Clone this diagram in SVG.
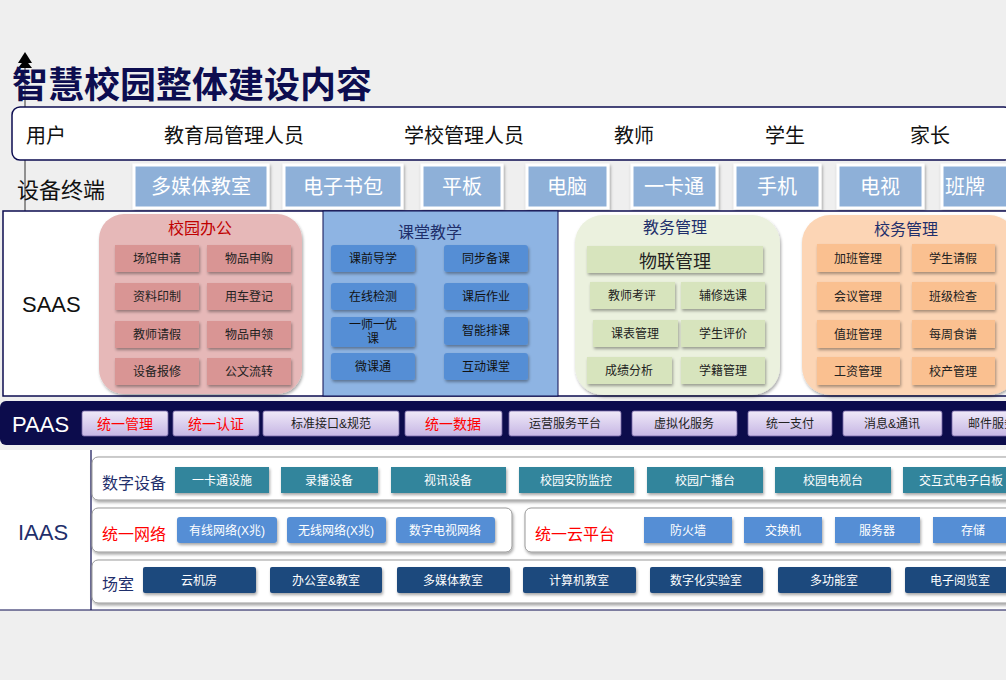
<svg xmlns="http://www.w3.org/2000/svg" width="1006" height="680" viewBox="0 0 1006 680">
<defs>
<linearGradient id="lav" x1="0" y1="0" x2="0" y2="1"><stop offset="0" stop-color="#efe9f8"/><stop offset="1" stop-color="#c6b6e4"/></linearGradient>
<filter id="sh" x="-10%" y="-10%" width="130%" height="140%"><feDropShadow dx="1" dy="2" stdDeviation="1.5" flood-color="#000" flood-opacity="0.35"/></filter>
</defs>
<style>
text{font-family:"Liberation Sans","Noto Sans CJK SC",sans-serif;}
.c{text-anchor:middle}
.s12{font-size:12px}
.w{fill:#fff}
.nv{fill:#1f2f6b}
.rd{fill:#ff0000}
.bx{filter:url(#sh)}
</style>
<rect width="1006" height="680" fill="#efefef"/>
<g id="title">
<line x1="25" y1="55" x2="25" y2="215" stroke="#333" stroke-width="1"/>
<polygon points="18,63 25,52 32,63" fill="#000"/>
<polygon points="18,68 25,59 32,68" fill="#000"/>
<text x="12" y="98" font-size="36" font-weight="bold" fill="#0d0d50">智慧校园整体建设内容</text>
</g>
<g id="users">
<rect x="12" y="107" width="1000" height="53" rx="8" fill="#fff" stroke="#0d0d50" stroke-width="1.5"/>
<g font-size="20" fill="#111">
<text x="26" y="143">用户</text><text x="164" y="143">教育局管理人员</text><text x="404" y="143">学校管理人员</text>
<text x="614" y="143">教师</text><text x="765" y="143">学生</text><text x="910" y="143">家长</text>
</g>
</g>
<g id="devices">
<text x="17" y="198" font-size="22" fill="#111">设备终端</text>
<g fill="#8eb0d8" stroke="#fff" stroke-width="3" class="bx">
<rect x="134" y="165" width="134" height="43"/><rect x="284" y="165" width="118" height="43"/><rect x="422" y="165" width="80" height="43"/>
<rect x="527" y="165" width="81" height="43"/><rect x="632" y="165" width="85" height="43"/><rect x="735" y="165" width="85" height="43"/>
<rect x="838" y="165" width="85" height="43"/><rect x="942" y="165" width="70" height="43"/>
</g>
<g font-size="20" class="c w">
<text x="201" y="194">多媒体教室</text><text x="343" y="194">电子书包</text><text x="462" y="194">平板</text><text x="567" y="194">电脑</text>
<text x="674" y="194">一卡通</text><text x="777" y="194">手机</text><text x="880" y="194">电视</text><text x="965" y="194">班牌</text>
</g>
</g>
<g id="saas">
<rect x="3" y="211" width="1005" height="185" fill="#fff" stroke="#0d0d50" stroke-width="1.5"/>
<text x="22" y="312" font-size="22" fill="#111">SAAS</text>
<g id="office">
<rect x="99" y="214" width="203" height="180" rx="25" fill="#e6b8b8" class="bx"/>
<text x="200" y="234" font-size="16" class="c" fill="#c00000">校园办公</text>
<g fill="#d99594" class="bx">
<rect x="115" y="245" width="84" height="27"/><rect x="207" y="245" width="84" height="27"/>
<rect x="115" y="283" width="84" height="27"/><rect x="207" y="283" width="84" height="27"/>
<rect x="115" y="321" width="84" height="27"/><rect x="207" y="321" width="84" height="27"/>
<rect x="115" y="358" width="84" height="27"/><rect x="207" y="358" width="84" height="27"/>
</g>
<g class="c s12" fill="#222">
<text x="157" y="263">场馆申请</text><text x="249" y="263">物品申购</text>
<text x="157" y="301">资料印制</text><text x="249" y="301">用车登记</text>
<text x="157" y="339">教师请假</text><text x="249" y="339">物品申领</text>
<text x="157" y="376">设备报修</text><text x="249" y="376">公文流转</text>
</g>
</g>
<g id="teaching">
<rect x="323" y="211" width="235" height="185" fill="#8eb4e3" stroke="#0d0d50" stroke-width="1"/>
<text x="430" y="238" font-size="16" class="c nv">课堂教学</text>
<g fill="#558ed5" class="bx">
<rect x="331" y="245" width="84" height="27" rx="3"/><rect x="444" y="245" width="84" height="27" rx="3"/>
<rect x="331" y="283" width="84" height="27" rx="3"/><rect x="444" y="283" width="84" height="27" rx="3"/>
<rect x="331" y="317" width="84" height="30" rx="3"/><rect x="444" y="317" width="84" height="28" rx="3"/>
<rect x="331" y="353" width="84" height="27" rx="3"/><rect x="444" y="353" width="84" height="27" rx="3"/>
</g>
<g class="c s12" fill="#111">
<text x="373" y="263">课前导学</text><text x="486" y="263">同步备课</text>
<text x="373" y="301">在线检测</text><text x="486" y="301">课后作业</text>
<text x="373" y="329">一师一优</text><text x="373" y="343">课</text><text x="486" y="335">智能排课</text>
<text x="373" y="371">微课通</text><text x="486" y="371">互动课堂</text>
</g>
</g>
<g id="academic">
<rect x="575" y="215" width="205" height="180" rx="28" fill="#ebf1de" class="bx"/>
<text x="675" y="233" font-size="16" class="c nv">教务管理</text>
<g fill="#d7e4bd" class="bx">
<rect x="587" y="246" width="176" height="27"/>
<rect x="590" y="282" width="85" height="27"/><rect x="681" y="282" width="84" height="27"/>
<rect x="593" y="320" width="85" height="27"/><rect x="681" y="320" width="84" height="27"/>
<rect x="587" y="357" width="85" height="27"/><rect x="681" y="357" width="84" height="27"/>
</g>
<text x="675" y="268" font-size="18" class="c" fill="#222">物联管理</text>
<g class="c s12" fill="#222">
<text x="632" y="300">教师考评</text><text x="723" y="300">辅修选课</text>
<text x="635" y="338">课表管理</text><text x="723" y="338">学生评价</text>
<text x="629" y="375">成绩分析</text><text x="723" y="375">学籍管理</text>
</g>
</g>
<g id="admin">
<rect x="802" y="215" width="215" height="180" rx="28" fill="#fcd5b5" class="bx"/>
<text x="906" y="235" font-size="16" class="c nv">校务管理</text>
<g fill="#fac090" class="bx">
<rect x="817" y="244" width="83" height="28"/><rect x="912" y="244" width="83" height="28"/>
<rect x="817" y="282" width="83" height="28"/><rect x="912" y="282" width="83" height="28"/>
<rect x="817" y="320" width="83" height="28"/><rect x="912" y="320" width="83" height="28"/>
<rect x="817" y="357" width="83" height="28"/><rect x="912" y="357" width="83" height="28"/>
</g>
<g class="c s12" fill="#222">
<text x="858" y="263">加班管理</text><text x="953" y="263">学生请假</text>
<text x="858" y="301">会议管理</text><text x="953" y="301">班级检查</text>
<text x="858" y="339">值班管理</text><text x="953" y="339">每周食谱</text>
<text x="858" y="376">工资管理</text><text x="953" y="376">校产管理</text>
</g>
</g>
</g>
<g id="paas">
<rect x="0" y="401" width="1012" height="44" rx="6" fill="#0c0c4c"/>
<text x="12" y="432" font-size="22" fill="#fff">PAAS</text>
<g fill="url(#lav)" stroke="#7a6aa8" stroke-width="0.8">
<rect x="82" y="411" width="86" height="25" rx="2"/><rect x="173" y="411" width="86" height="25" rx="2"/>
<rect x="263" y="411" width="136" height="25" rx="2"/><rect x="405" y="411" width="97" height="25" rx="2"/>
<rect x="509" y="411" width="112" height="25" rx="2"/><rect x="632" y="411" width="105" height="25" rx="2"/>
<rect x="748" y="411" width="84" height="25" rx="2"/><rect x="843" y="411" width="99" height="25" rx="2"/>
<rect x="952" y="411" width="70" height="25" rx="2"/>
</g>
<g class="c" font-size="14" fill="#ff0000">
<text x="125" y="429">统一管理</text><text x="216" y="429">统一认证</text><text x="453" y="429">统一数据</text>
</g>
<g class="c s12" fill="#222">
<text x="331" y="428">标准接口&amp;规范</text><text x="565" y="428">运营服务平台</text><text x="684" y="428">虚拟化服务</text>
<text x="790" y="428">统一支付</text><text x="892" y="428">消息&amp;通讯</text><text x="992" y="428">邮件服务</text>
</g>
</g>
<g id="iaas">
<rect x="0" y="450" width="1006" height="160" fill="#fff"/>
<line x1="0" y1="610" x2="1006" y2="610" stroke="#0d0d50" stroke-width="1.2"/>
<line x1="91" y1="450" x2="91" y2="610" stroke="#0d0d50" stroke-width="1.2"/>
<text x="18" y="540" font-size="22" fill="#1f2f6b">IAAS</text>
<g fill="#fff" stroke="#999" stroke-width="1" class="bx">
<rect x="92" y="457" width="920" height="43" rx="6"/>
<rect x="92" y="508" width="420" height="44" rx="6"/>
<rect x="525" y="508" width="487" height="44" rx="6"/>
<rect x="92" y="560" width="920" height="43" rx="6"/>
</g>
<g font-size="16">
<text x="102" y="489" class="nv">数字设备</text><text x="102" y="540" class="rd">统一网络</text>
<text x="535" y="540" class="rd">统一云平台</text><text x="102" y="590" class="nv">场室</text>
</g>
<g fill="#31859c" class="bx">
<rect x="175" y="467" width="94" height="26"/><rect x="281" y="467" width="97" height="26"/><rect x="391" y="467" width="115" height="26"/>
<rect x="519" y="467" width="115" height="26"/><rect x="647" y="467" width="116" height="26"/><rect x="775" y="467" width="116" height="26"/>
<rect x="903" y="467" width="110" height="26"/>
</g>
<g fill="#558ed5" class="bx">
<rect x="177" y="517" width="100" height="26" rx="3"/><rect x="287" y="517" width="99" height="26" rx="3"/><rect x="396" y="517" width="99" height="26" rx="3"/>
<rect x="644" y="517" width="88" height="26"/><rect x="744" y="517" width="78" height="26"/><rect x="835" y="517" width="85" height="26"/>
<rect x="933" y="517" width="80" height="26"/>
</g>
<g fill="#1f497d" class="bx">
<rect x="143" y="567" width="113" height="26" rx="2"/><rect x="270" y="567" width="112" height="26" rx="2"/><rect x="397" y="567" width="113" height="26" rx="2"/>
<rect x="523" y="567" width="113" height="26" rx="2"/><rect x="650" y="567" width="113" height="26" rx="2"/><rect x="778" y="567" width="113" height="26" rx="2"/>
<rect x="905" y="567" width="108" height="26" rx="2"/>
</g>
<g class="c s12 w">
<text x="222" y="485">一卡通设施</text><text x="329" y="485">录播设备</text><text x="448" y="485">视讯设备</text>
<text x="576" y="485">校园安防监控</text><text x="705" y="485">校园广播台</text><text x="833" y="485">校园电视台</text>
<text x="961" y="485">交互式电子白板</text>
<text x="227" y="535">有线网络(X兆)</text><text x="336" y="535">无线网络(X兆)</text><text x="445" y="535">数字电视网络</text>
<text x="688" y="535">防火墙</text><text x="783" y="535">交换机</text><text x="877" y="535">服务器</text><text x="973" y="535">存储</text>
<text x="199" y="585">云机房</text><text x="326" y="585">办公室&amp;教室</text><text x="453" y="585">多媒体教室</text>
<text x="579" y="585">计算机教室</text><text x="706" y="585">数字化实验室</text><text x="834" y="585">多功能室</text>
<text x="960" y="585">电子阅览室</text>
</g>
</g>
</svg>
